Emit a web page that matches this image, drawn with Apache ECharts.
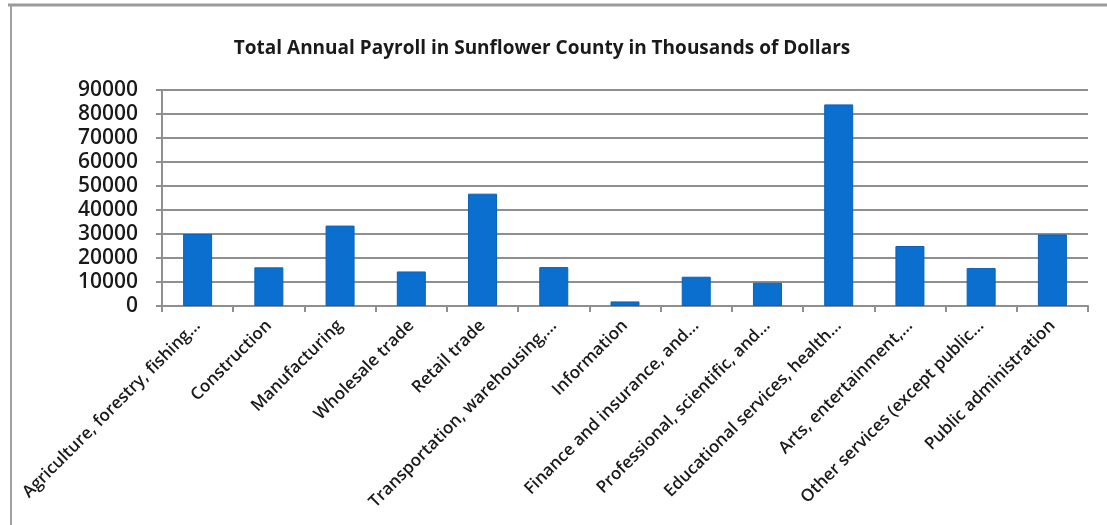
<!DOCTYPE html>
<html>
<head>
<meta charset="utf-8">
<title>Total Annual Payroll in Sunflower County</title>
<script src="https://cdn.jsdelivr.net/npm/echarts@6/dist/echarts.min.js"></script>
<style>
  html, body { margin: 0; padding: 0; background: #ffffff; }
  #chart { width: 1107px; height: 525px; }
</style>
</head>
<body>
<div id="chart"></div>
<script>
// Industry sectors (labels as shown on the axis, already shortened)
const categories = [
  'Agriculture, forestry, fishing…',
  'Construction',
  'Manufacturing',
  'Wholesale trade',
  'Retail trade',
  'Transportation, warehousing,…',
  'Information',
  'Finance and insurance, and…',
  'Professional, scientific, and…',
  'Educational services, health…',
  'Arts, entertainment,…',
  'Other services (except public…',
  'Public administration'
];

// Total annual payroll, thousands of dollars
const payroll = [30000, 16100, 33500, 14400, 46800, 16200, 1900, 12200, 9700, 84000, 25000, 15800, 29800];

// Value axis ticks
const yMin = 0;
const yMax = 90000;
const yStep = 10000;

const chartTitle = 'Total Annual Payroll in Sunflower County in Thousands of Dollars';

const chart = echarts.init(document.getElementById('chart'), null, { renderer: 'canvas' });

const gridColor = '#8f8f8f';
const textColor = '#1a1a1a';
const fontFamily = '"Open Sans", "Noto Sans", sans-serif';

chart.setOption({
  backgroundColor: '#ffffff',
  animation: false,
  title: {
    text: chartTitle,
    left: 537,
    top: 34,
    textAlign: 'center',
    textStyle: {
      fontFamily: fontFamily,
      fontWeight: 700,
      fontSize: 19,
      color: textColor
    }
  },
  grid: {
    left: 162,
    right: 19,
    top: 90,
    bottom: 219,
    containLabel: false
  },
  xAxis: {
    type: 'category',
    data: categories,
    axisLine: { show: true, lineStyle: { color: gridColor, width: 2 } },
    axisTick: { show: true, alignWithLabel: false, length: 6, lineStyle: { color: gridColor, width: 2 } },
    axisLabel: {
      interval: 0,
      rotate: 45,
      margin: 17,
      fontFamily: fontFamily,
      fontWeight: 600,
      fontSize: 17,
      color: textColor
    },
    splitLine: { show: false }
  },
  yAxis: {
    type: 'value',
    min: yMin,
    max: yMax,
    interval: yStep,
    axisLine: { show: true, lineStyle: { color: gridColor, width: 2 } },
    axisTick: { show: true, length: 6, lineStyle: { color: gridColor, width: 2 } },
    axisLabel: {
      margin: 24,
      formatter: (v) => String(v),
      fontFamily: fontFamily,
      fontWeight: 600,
      fontSize: 21,
      color: textColor
    },
    splitLine: { show: true, lineStyle: { color: gridColor, width: 2 } }
  },
  series: [{
    type: 'bar',
    data: payroll,
    barWidth: 29,
    itemStyle: {
      color: '#0b6fd0',
      borderColor: '#0a62ba',
      borderWidth: 1
    }
  }],
  graphic: [
    // chart frame: top and left edges
    { type: 'line', shape: { x1: 8, y1: 5, x2: 1107, y2: 5 }, style: { stroke: '#9a9a9a', lineWidth: 3 }, silent: true },
    { type: 'line', shape: { x1: 11, y1: 5, x2: 11, y2: 525 }, style: { stroke: '#a0a0a0', lineWidth: 2 }, silent: true }
  ]
});
</script>
</body>
</html>
